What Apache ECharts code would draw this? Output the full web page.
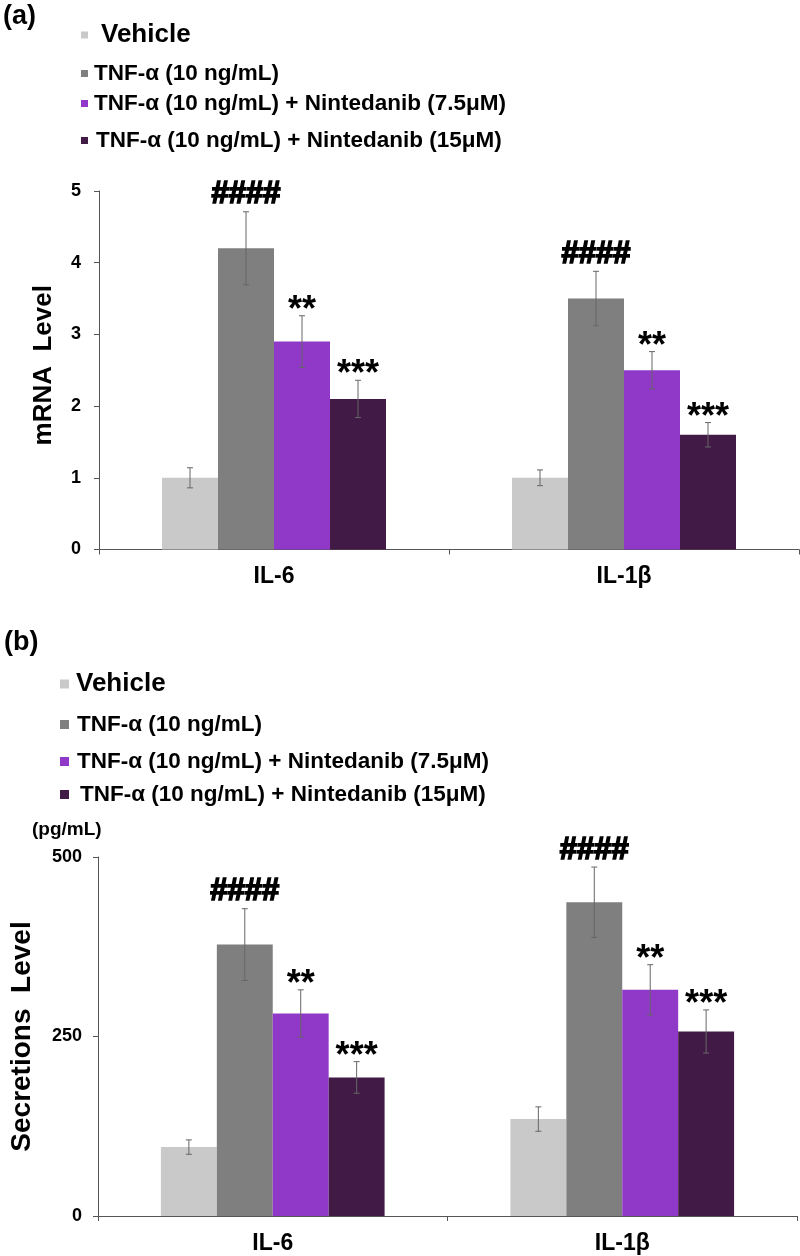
<!DOCTYPE html>
<html>
<head>
<meta charset="utf-8">
<script src="https://cdn.jsdelivr.net/npm/echarts@6/dist/echarts.min.js"></script>
<style>
  html, body { margin: 0; padding: 0; background: #fff; }
  #chart { width: 800px; height: 1256px; }
</style>
</head>
<body>
<div id="chart"></div>
<script>
// categories and groups
const categories = ['IL-6', 'IL-1β']
const groups = [
  'Vehicle',
  'TNF-α (10 ng/mL)',
  'TNF-α (10 ng/mL) + Nintedanib (7.5μM)',
  'TNF-α (10 ng/mL) + Nintedanib (15μM)'
]
const colors = ['#c9c9c9', '#7f7f7f', '#9039c8', '#411b46']

// (a) mRNA level, one row per group: [IL-6, IL-1β]
const mrnaMean = [[1.0, 1.0], [4.2, 3.5], [2.9, 2.5], [2.1, 1.6]]
const mrnaErr = [[0.14, 0.11], [0.51, 0.38], [0.36, 0.26], [0.26, 0.17]]

// (b) secretions level (pg/mL)
const secMean = [[96, 135], [378, 437], [282, 315], [193, 257]]
const secErr = [[10, 17], [50, 49], [33, 35], [22, 30]]

// significance marks per group
const marks = ['', '####', '**', '***']

const FONT = '"Liberation Sans", Arial, sans-serif'
const BAR_FRAC = 0.16

const chart = echarts.init(document.getElementById('chart'), null, { renderer: 'canvas' })

function legendItem(name, left, top, size, icon, pad) {
  return {
    data: [name],
    left: left,
    top: top,
    padding: 0,
    icon: 'rect',
    itemWidth: icon,
    itemHeight: icon,
    selectedMode: false,
    textStyle: {
      fontSize: size,
      fontWeight: 'bold',
      color: '#000',
      fontFamily: FONT,
      padding: [0, 0, 0, pad]
    }
  }
}

function barSeries(panel, means) {
  return groups.map((g, i) => ({
    name: g,
    type: 'bar',
    xAxisIndex: panel,
    yAxisIndex: panel,
    data: means[i],
    barWidth: (BAR_FRAC * 100) + '%',
    barGap: '0%',
    itemStyle: { color: colors[i] },
    animation: false
  }))
}

function errorSeries(panel, means, errs) {
  const data = []
  means.forEach((row, g) => {
    row.forEach((v, c) => {
      data.push([c, g, v, errs[g][c]])
    })
  })
  return {
    type: 'custom',
    xAxisIndex: panel,
    yAxisIndex: panel,
    z: 10,
    animation: false,
    encode: { x: 0, y: 2 },
    data: data,
    renderItem: function(params, api) {
      const c = api.value(0)
      const g = api.value(1)
      const m = api.value(2)
      const e = api.value(3)
      const band = api.size([1, 0])[0]
      const x = api.coord([c, 0])[0] + (g - 1.5) * band * BAR_FRAC
      const top = api.coord([c, m + e])[1]
      const bot = api.coord([c, m - e])[1]
      const line = { stroke: '#666', lineWidth: 1 }
      const children = [
        { type: 'line', shape: { x1: x, y1: top, x2: x, y2: bot }, style: line },
        { type: 'line', shape: { x1: x - 3, y1: top, x2: x + 3, y2: top }, style: line },
        { type: 'line', shape: { x1: x - 3, y1: bot, x2: x + 3, y2: bot }, style: line }
      ]
      const mk = marks[g]
      if (mk) {
        const isHash = mk.charAt(0) === '#'
        children.push({
          type: 'text',
          x: x,
          y: top - (isHash ? 17 : 5),
          style: {
            text: mk,
            fill: '#000',
            stroke: isHash ? '#000' : null,
            lineWidth: isHash ? 1.6 : 0,
            font: 'bold ' + (isHash ? 31 : 36) + 'px ' + FONT,
            align: 'center',
            verticalAlign: 'middle'
          }
        })
      }
      return { type: 'group', children: children }
    }
  }
}

const axisLine = { show: true, lineStyle: { color: '#555', width: 1 } }
const axisLabel = { color: '#000', fontSize: 18, fontWeight: 'bold', fontFamily: FONT }

chart.setOption({
  animation: false,
  textStyle: { fontFamily: FONT },
  title: [
    { text: '(a)', left: 3, top: 3, padding: 0, textStyle: { fontSize: 27, fontWeight: 'bold', color: '#000', fontFamily: FONT } },
    { text: '(b)', left: 4, top: 629, padding: 0, textStyle: { fontSize: 27, fontWeight: 'bold', color: '#000', fontFamily: FONT } },
    { text: '(pg/mL)', left: 32, top: 820, padding: 0, textStyle: { fontSize: 19, fontWeight: 'bold', color: '#000', fontFamily: FONT } }
  ],
  legend: [
    legendItem(groups[0], 81, 22, 26, 7, 8),
    legendItem(groups[1], 81, 62, 22.5, 7, 1),
    legendItem(groups[2], 81, 92, 22.5, 7, 1),
    legendItem(groups[3], 81, 129, 22.5, 7, 3),
    legendItem(groups[0], 60, 671, 26, 9, 2),
    legendItem(groups[1], 60, 713, 22.5, 9, 3),
    legendItem(groups[2], 60, 750, 22.5, 9, 3),
    legendItem(groups[3], 60, 783, 22.5, 9, 6)
  ],
  grid: [
    { left: 99, right: 1, top: 191, height: 358.5 },
    { left: 95, right: 3, top: 857, height: 359 }
  ],
  xAxis: [0, 1].map(i => ({
    type: 'category',
    gridIndex: i,
    data: categories,
    axisLine: axisLine,
    axisTick: { show: true, length: 5, lineStyle: { color: '#555' } },
    axisLabel: { color: '#000', fontSize: 23, fontWeight: 'bold', fontFamily: FONT, margin: 16 }
  })),
  yAxis: [
    {
      type: 'value',
      gridIndex: 0,
      min: 0,
      max: 5,
      interval: 1,
      name: 'mRNA  Level',
      nameLocation: 'middle',
      nameGap: 42,
      nameTextStyle: { fontSize: 26, fontWeight: 'bold', color: '#000', fontFamily: FONT, padding: [0, 0, 0, 10] },
      axisLine: axisLine,
      axisTick: { show: true, length: 5, lineStyle: { color: '#555' } },
      axisLabel: Object.assign({ margin: 18 }, axisLabel),
      splitLine: { show: false }
    },
    {
      type: 'value',
      gridIndex: 1,
      min: 0,
      max: 500,
      interval: 250,
      name: 'Secretions  Level',
      nameLocation: 'middle',
      nameGap: 62,
      nameTextStyle: { fontSize: 28, fontWeight: 'bold', color: '#000', fontFamily: FONT },
      axisLine: axisLine,
      axisTick: { show: true, length: 5, lineStyle: { color: '#555' } },
      axisLabel: Object.assign({ margin: 16 }, axisLabel),
      splitLine: { show: false }
    }
  ],
  series: [].concat(
    barSeries(0, mrnaMean),
    barSeries(1, secMean),
    [errorSeries(0, mrnaMean, mrnaErr), errorSeries(1, secMean, secErr)]
  )
})
</script>
</body>
</html>
